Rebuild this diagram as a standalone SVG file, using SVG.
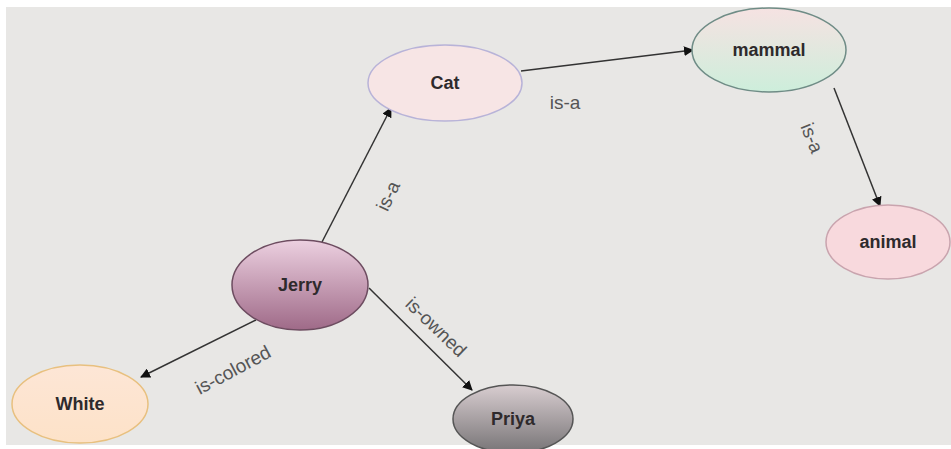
<svg xmlns="http://www.w3.org/2000/svg" width="951" height="449" viewBox="0 0 951 449">
<defs>
<style>
.node text{font-family:"Liberation Sans",Arial,sans-serif;font-weight:bold;font-size:18px;fill:#2e2a2c;text-anchor:middle;dominant-baseline:central}
.lbl{font-family:"Liberation Sans",Arial,sans-serif;font-size:19px;fill:#555555;text-anchor:middle;dominant-baseline:central}
.edge{stroke:#333;stroke-width:1.5;fill:none;marker-end:url(#arr)}
</style>
<marker id="arr" viewBox="0 0 10 10" refX="9" refY="5" markerWidth="10" markerHeight="10" markerUnits="userSpaceOnUse" orient="auto">
<path d="M0,0 L10,5 L0,10 z" fill="#111"/>
</marker>
<linearGradient id="gMammal" x1="0" y1="0" x2="0" y2="1">
<stop offset="0" stop-color="#f6e2e2"/><stop offset="1" stop-color="#cdeedb"/>
</linearGradient>
<linearGradient id="gJerry" x1="0" y1="0" x2="0" y2="1">
<stop offset="0" stop-color="#ecd0e0"/><stop offset="1" stop-color="#9f6a88"/>
</linearGradient>
<linearGradient id="gPriya" x1="0" y1="0" x2="0" y2="1">
<stop offset="0" stop-color="#d8cdd0"/><stop offset="1" stop-color="#777476"/>
</linearGradient>
<linearGradient id="gWhite" x1="0" y1="0" x2="0" y2="1">
<stop offset="0" stop-color="#fde6d6"/><stop offset="1" stop-color="#fde2c8"/>
</linearGradient>
</defs>
<rect width="951" height="449" fill="#ffffff"/>
<rect x="6" y="7" width="945" height="438" fill="#e8e7e5"/>
<g id="connectors">
<line class="edge" x1="322" y1="242" x2="391" y2="108"/>
<line class="edge" x1="521" y1="71" x2="693" y2="50"/>
<line class="edge" x1="834" y1="88" x2="880" y2="206"/>
<line class="edge" x1="256" y1="320" x2="141" y2="377"/>
<line class="edge" x1="369" y1="288" x2="472" y2="390"/>
<text class="lbl" transform="translate(388,196) rotate(-65)">is-a</text>
<text class="lbl" transform="translate(565,102)">is-a</text>
<text class="lbl" transform="translate(812,138) rotate(68)">is-a</text>
<text class="lbl" transform="translate(436,327) rotate(44)">is-owned</text>
<text class="lbl" transform="translate(233,370) rotate(-28)">is-colored</text>
</g>
<g id="cat" class="node">
<ellipse cx="445" cy="83" rx="77" ry="38" fill="#f7e5e5" stroke="#b8b3d8" stroke-width="1.5"/>
<text x="445" y="83">Cat</text>
</g>
<g id="mammal" class="node">
<ellipse cx="769" cy="50" rx="77" ry="42" fill="url(#gMammal)" stroke="#6f8c86" stroke-width="1.5"/>
<text x="769" y="50">mammal</text>
</g>
<g id="animal" class="node">
<ellipse cx="888" cy="242" rx="62" ry="37" fill="#f8d9dd" stroke="#c9a4ae" stroke-width="1.5"/>
<text x="888" y="242">animal</text>
</g>
<g id="jerry" class="node">
<ellipse cx="300" cy="285" rx="68" ry="45" fill="url(#gJerry)" stroke="#6d4c60" stroke-width="1.5"/>
<text x="300" y="285">Jerry</text>
</g>
<g id="white" class="node">
<ellipse cx="80" cy="404" rx="68" ry="39" fill="url(#gWhite)" stroke="#e8c07f" stroke-width="1.5"/>
<text x="80" y="404">White</text>
</g>
<g id="priya" class="node">
<ellipse cx="513" cy="419" rx="60" ry="34" fill="url(#gPriya)" stroke="#555" stroke-width="1.5"/>
<text x="513" y="419">Priya</text>
</g>
</svg>
